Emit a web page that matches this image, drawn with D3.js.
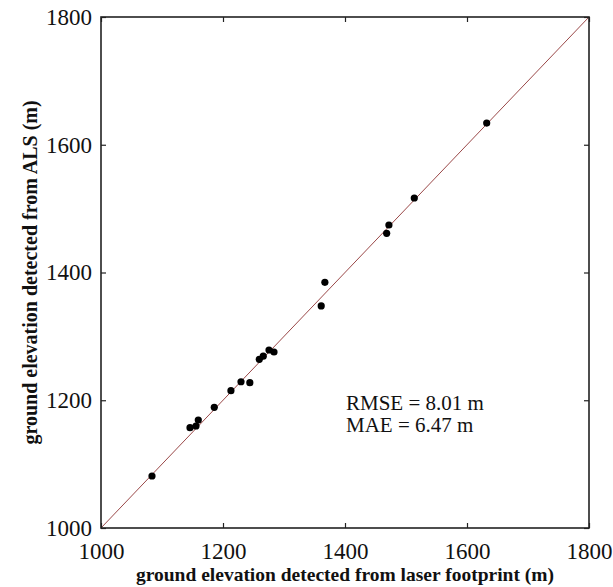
<!DOCTYPE html>
<html>
<head>
<meta charset="utf-8">
<script src="https://cdn.jsdelivr.net/npm/d3@7"></script>
<style>
  html, body { margin: 0; padding: 0; background: #fff; }
  svg { display: block; }
  text { font-family: "Liberation Serif", "Times New Roman", serif; fill: #111; }
</style>
</head>
<body>
<svg id="chart" width="613" height="587"></svg>
<script>
// Ground elevation (m): laser footprint estimate vs ALS reference
const footprintElev = [1083.6, 1145.9, 1155.7, 1159.5, 1185.7, 1213.0, 1229.5, 1244.0, 1259.5,
                       1266.0, 1275.4, 1283.6, 1361.0, 1367.0, 1468.3, 1472.0, 1513.6, 1632.3];
const alsElev       = [1081.4, 1157.0, 1159.7, 1169.0, 1189.0, 1215.0, 1229.0, 1227.5, 1264.0,
                       1269.0, 1278.7, 1275.5, 1347.6, 1384.6, 1461.4, 1474.4, 1516.6, 1634.0];
const tickValues = [1000, 1200, 1400, 1600, 1800];
const statLines = ["RMSE = 8.01 m", "MAE = 6.47 m"];
const xTitle = "ground elevation detected from laser footprint (m)";
const yTitle = "ground elevation detected from ALS (m)";

const svg = d3.select("#chart");
const plot = { left: 101, right: 589, top: 17, bottom: 528 };

const x = d3.scaleLinear().domain([1000, 1800]).range([plot.left, plot.right]);
const y = d3.scaleLinear().domain([1000, 1800]).range([plot.bottom, plot.top]);

// 1:1 reference line
svg.append("line")
  .attr("x1", x(1000)).attr("y1", y(1000))
  .attr("x2", x(1800)).attr("y2", y(1800))
  .attr("stroke", "#9a4848").attr("stroke-width", 1);

// Scatter points
const pts = footprintElev.map((v, i) => [v, alsElev[i]]);
svg.append("g").selectAll("circle").data(pts).join("circle")
  .attr("cx", d => x(d[0])).attr("cy", d => y(d[1]))
  .attr("r", 3.6).attr("fill", "#000");

// Axes with inward ticks on all four sides
const tickLen = 5;
const axisStyle = g => {
  g.select(".domain").remove();
  g.selectAll(".tick line").attr("stroke", "#222").attr("stroke-width", 1.2);
  g.selectAll(".tick text").style("font-size", "23px")
    .style("font-family", '"Liberation Serif", "Times New Roman", serif').attr("fill", "#111");
};

svg.append("g").attr("transform", `translate(0,${plot.bottom})`)
  .call(d3.axisBottom(x).tickValues(tickValues).tickFormat(d3.format("d"))
    .tickSizeInner(-tickLen).tickSizeOuter(0))
  .call(axisStyle)
  .call(g => g.selectAll(".tick text").attr("dy", null).attr("y", 31));

svg.append("g").attr("transform", `translate(0,${plot.top})`)
  .call(d3.axisTop(x).tickValues(tickValues).tickSizeInner(-tickLen).tickSizeOuter(0).tickFormat(""))
  .call(axisStyle);

svg.append("g").attr("transform", `translate(${plot.left},0)`)
  .call(d3.axisLeft(y).tickValues(tickValues).tickFormat(d3.format("d"))
    .tickSizeInner(-tickLen).tickSizeOuter(0))
  .call(axisStyle)
  .call(g => g.selectAll(".tick text").attr("x", -9));

svg.append("g").attr("transform", `translate(${plot.right},0)`)
  .call(d3.axisRight(y).tickValues(tickValues).tickSizeInner(-tickLen).tickSizeOuter(0).tickFormat(""))
  .call(axisStyle);

// Frame
svg.append("rect")
  .attr("x", plot.left).attr("y", plot.top)
  .attr("width", plot.right - plot.left).attr("height", plot.bottom - plot.top)
  .attr("fill", "none").attr("stroke", "#222").attr("stroke-width", 1.6);

// Axis titles
svg.append("text")
  .attr("x", (plot.left + plot.right) / 2).attr("y", 581)
  .attr("text-anchor", "middle")
  .style("font-size", "19.5px").style("font-weight", "bold")
  .text(xTitle);

svg.append("text")
  .attr("transform", `translate(37,${(plot.top + plot.bottom) / 2}) rotate(-90)`)
  .attr("text-anchor", "middle")
  .style("font-size", "20px").style("font-weight", "bold")
  .text(yTitle);

// Error statistics
svg.append("g").selectAll("text").data(statLines).join("text")
  .attr("x", 346).attr("y", (d, i) => 410 + i * 22)
  .style("font-size", "21px")
  .text(d => d);
</script>
</body>
</html>
